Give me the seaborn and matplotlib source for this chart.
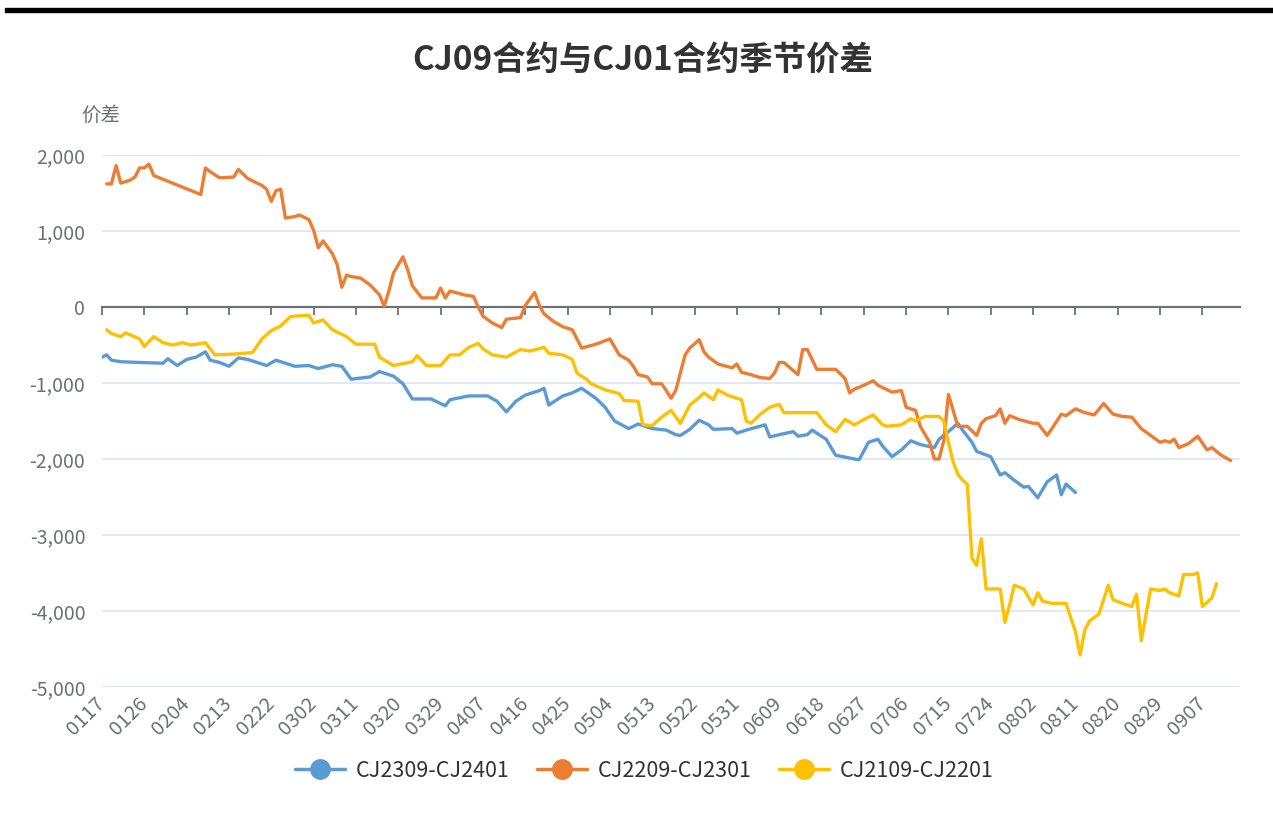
import matplotlib
matplotlib.use("Agg")
import matplotlib.pyplot as plt
from matplotlib.lines import Line2D
from matplotlib.patches import Rectangle
import pandas as pd
import seaborn as sns

# === categories (every calendar day, leap-year calendar) ===
categories = list(pd.date_range("2024-01-17", "2024-09-15").strftime("%m%d"))
tick_labels = categories[::9]
y_ticks = [2000, 1000, 0, -1000, -2000, -3000, -4000, -5000]

series_names = ["CJ2309-CJ2401", "CJ2209-CJ2301", "CJ2109-CJ2201"]
colors = ["#5B9BD5", "#ED7D31", "#FFC000"]

# === CJ2309-CJ2401 ===
blue_dates = ["0117", "0118", "0119", "0121", "0125", "0130", "0131", "0202", "0204", "0206",
              "0208", "0209", "0211", "0213", "0215", "0217", "0221", "0223", "0227", "0301",
              "0303", "0306", "0308", "0310", "0314", "0316", "0319", "0321", "0323", "0327",
              "0330", "0331", "0404", "0408", "0410", "0412", "0414", "0416", "0419", "0420",
              "0421", "0424", "0426", "0428", "0501", "0503", "0505", "0508", "0510", "0513",
              "0516", "0518", "0519", "0521", "0523", "0525", "0526", "0530", "0531", "0602",
              "0606", "0607", "0609", "0612", "0613", "0615", "0616", "0619", "0621", "0625",
              "0626", "0628", "0630", "0701", "0703", "0705", "0707", "0709", "0712", "0713",
              "0715", "0717", "0718", "0720", "0721", "0724", "0726", "0727", "0729", "0731",
              "0801", "0803", "0805", "0807", "0808", "0809", "0811"]
blue_vals = [-660, -630, -700, -720, -730, -740, -680, -770, -690, -660,
             -590, -700, -730, -780, -670, -690, -770, -700, -780, -770,
             -810, -760, -780, -950, -920, -850, -910, -1010, -1210, -1210,
             -1300, -1220, -1170, -1170, -1240, -1380, -1240, -1160, -1100, -1070,
             -1290, -1170, -1130, -1070, -1200, -1320, -1500, -1600, -1540, -1600,
             -1620, -1680, -1690, -1610, -1490, -1550, -1610, -1600, -1660, -1620,
             -1550, -1710, -1680, -1640, -1700, -1680, -1620, -1740, -1950, -2000,
             -2010, -1780, -1740, -1830, -1970, -1880, -1760, -1810, -1850, -1740,
             -1640, -1530, -1620, -1780, -1900, -1970, -2210, -2180, -2280, -2370,
             -2360, -2510, -2300, -2210, -2470, -2330, -2440]

# === CJ2209-CJ2301 ===
orange_dates = ["0118", "0119", "0120", "0121", "0123", "0124", "0125", "0126", "0127", "0128",
                "0207", "0208", "0209", "0211", "0214", "0215", "0217", "0218", "0220", "0221",
                "0222", "0223", "0224", "0225", "0227", "0228", "0301", "0302", "0303", "0304",
                "0306", "0307", "0308", "0309", "0310", "0312", "0314", "0316", "0317", "0318",
                "0319", "0321", "0322", "0323", "0325", "0328", "0329", "0330", "0331", "0403",
                "0405", "0406", "0407", "0409", "0411", "0412", "0415", "0416", "0418", "0419",
                "0420", "0422", "0424", "0426", "0427", "0428", "0501", "0504", "0506", "0508",
                "0509", "0510", "0512", "0513", "0515", "0516", "0517", "0518", "0520", "0521",
                "0523", "0524", "0525", "0527", "0530", "0531", "0601", "0603", "0605", "0607",
                "0608", "0609", "0610", "0613", "0614", "0615", "0617", "0621", "0623", "0624",
                "0625", "0627", "0629", "0630", "0703", "0705", "0706", "0708", "0709", "0711",
                "0712", "0713", "0714", "0715", "0716", "0717", "0719", "0721", "0722", "0723",
                "0725", "0726", "0727", "0728", "0730", "0802", "0803", "0805", "0806", "0808",
                "0809", "0811", "0813", "0815", "0817", "0819", "0821", "0823", "0825", "0827",
                "0829", "0830", "0831", "0901", "0902", "0904", "0906", "0908", "0909", "0911",
                "0913"]
orange_vals = [1620, 1620, 1860, 1630, 1670, 1710, 1830, 1830, 1880, 1730,
               1480, 1830, 1780, 1700, 1710, 1810, 1690, 1660, 1600, 1550,
               1390, 1530, 1550, 1170, 1190, 1210, 1150, 1010, 780, 870,
               700, 560, 260, 420, 400, 380, 290, 160, 10, 210,
               450, 660, 490, 280, 120, 120, 250, 120, 210, 160,
               140, 0, -120, -210, -270, -160, -140, 20, 190, 20,
               -90, -190, -260, -300, -420, -540, -490, -420, -630, -700,
               -780, -890, -920, -1010, -1010, -1100, -1200, -1100, -630, -540,
               -430, -590, -660, -750, -800, -750, -860, -890, -930, -940,
               -870, -730, -730, -890, -560, -560, -820, -820, -940, -1130,
               -1080, -1030, -970, -1030, -1120, -1100, -1320, -1360, -1570, -1780,
               -2000, -2000, -1760, -1150, -1360, -1570, -1570, -1690, -1530, -1470,
               -1430, -1340, -1530, -1430, -1480, -1530, -1530, -1690, -1600, -1410,
               -1430, -1340, -1390, -1420, -1270, -1410, -1440, -1450, -1600, -1690,
               -1780, -1760, -1780, -1740, -1850, -1800, -1700, -1880, -1850, -1950,
               -2020]

# === CJ2109-CJ2201 ===
yellow_dates = ["0118", "0119", "0121", "0122", "0125", "0126", "0128", "0130", "0201", "0203",
                "0205", "0208", "0210", "0214", "0218", "0220", "0222", "0224", "0226", "0227",
                "0301", "0302", "0304", "0306", "0309", "0311", "0315", "0316", "0319", "0323",
                "0324", "0326", "0329", "0331", "0402", "0404", "0406", "0407", "0409", "0412",
                "0415", "0417", "0420", "0421", "0424", "0426", "0427", "0429", "0430", "0503",
                "0506", "0507", "0510", "0511", "0513", "0515", "0517", "0519", "0521", "0523",
                "0524", "0526", "0527", "0529", "0601", "0602", "0603", "0605", "0607", "0609",
                "0610", "0617", "0619", "0621", "0623", "0625", "0627", "0629", "0701", "0702",
                "0705", "0707", "0708", "0710", "0713", "0714", "0715", "0716", "0717", "0718",
                "0719", "0720", "0721", "0722", "0723", "0726", "0727", "0728", "0729", "0731",
                "0802", "0803", "0804", "0806", "0809", "0811", "0812", "0813", "0814", "0816",
                "0818", "0819", "0821", "0823", "0824", "0825", "0827", "0829", "0830", "0831",
                "0902", "0903", "0905", "0906", "0907", "0909", "0910"]
yellow_vals = [-300, -350, -390, -340, -420, -520, -390, -470, -500, -470,
               -500, -470, -630, -620, -600, -420, -310, -250, -130, -120,
               -110, -210, -170, -300, -390, -490, -490, -660, -770, -720,
               -640, -770, -770, -630, -630, -530, -480, -550, -630, -660,
               -560, -580, -530, -610, -630, -690, -870, -950, -1010, -1090,
               -1140, -1230, -1240, -1550, -1560, -1450, -1360, -1530, -1290, -1190,
               -1130, -1220, -1090, -1160, -1220, -1500, -1530, -1410, -1320, -1280,
               -1390, -1390, -1550, -1640, -1480, -1550, -1480, -1420, -1550, -1570,
               -1550, -1470, -1500, -1440, -1440, -1500, -1780, -2040, -2200, -2280,
               -2330, -3300, -3400, -3050, -3710, -3710, -4150, -3920, -3660, -3710,
               -3920, -3760, -3870, -3900, -3900, -4270, -4580, -4250, -4130, -4040,
               -3660, -3850, -3900, -3940, -3780, -4390, -3710, -3730, -3710, -3760,
               -3800, -3520, -3520, -3500, -3940, -3830, -3640]

sns.set_theme(style="white")
plt.rcParams["font.family"] = ["Noto Sans CJK SC", "DejaVu Sans"]

rows = []
for name, dates, vals in zip(series_names,
                             [blue_dates, orange_dates, yellow_dates],
                             [blue_vals, orange_vals, yellow_vals]):
    assert len(dates) == len(vals), name
    for d, v in zip(dates, vals):
        rows.append({"idx": categories.index(d), "value": v, "series": name})
df = pd.DataFrame(rows)

W, H = 1273, 839
fig = plt.figure(figsize=(W / 100, H / 100), dpi=100)
ax = fig.add_axes([102 / W, 1 - 687 / H, 1138 / W, 532 / H])

sns.lineplot(data=df, x="idx", y="value", hue="series", hue_order=series_names,
             palette=colors, linewidth=2.4, estimator=None, legend=False, ax=ax, zorder=3)

ax.set_xlim(0, len(categories) - 1)
ax.set_ylim(-5000, 2000)
ax.set_xlabel("")
ax.set_ylabel("")
ax.set_yticks(y_ticks)
ax.set_yticklabels([f"{v:,}" for v in y_ticks])
ax.grid(axis="y", color="#E0E6F1", linewidth=1.3)
ax.grid(axis="x", visible=False)
ax.set_axisbelow(True)
for s in ax.spines.values():
    s.set_visible(False)
ax.tick_params(axis="y", length=0, pad=12, labelsize=14, labelcolor="#6E7079")

tick_pos = list(range(0, len(categories), 9))
ax.set_xticks(tick_pos)
ax.set_xticklabels(tick_labels, rotation=45, ha="right", va="center", rotation_mode="anchor")
ax.tick_params(axis="x", length=0, pad=10, labelsize=14.5, labelcolor="#6E7079")

# axis line at zero with ticks
ax.axhline(0, color="#6E7079", linewidth=1.5, zorder=2)
zero_ax = ax.secondary_xaxis(0, transform=ax.transData)
zero_ax.set_xticks(tick_pos)
zero_ax.set_xticklabels([])
zero_ax.tick_params(length=6, width=1.3, color="#6E7079", direction="out")
for s in zero_ax.spines.values():
    s.set_color("#6E7079")
    s.set_linewidth(1.5)

# header
fig.add_artist(Rectangle((5 / W, 1 - 11.5 / H), 1, 4 / H, transform=fig.transFigure,
                         color="black"))
fig.text(0.505, 1 - 60 / H, "CJ09合约与CJ01合约季节价差", ha="center", va="center",
         fontsize=24, fontweight="bold", color="#333333")
fig.text(101 / W, 1 - 115 / H, "价差", ha="center", va="center", fontsize=14,
         color="#6E7079")

handles = [Line2D([], [], color=c, lw=2.5, marker="o", markersize=14) for c in colors]
fig.legend(handles, series_names, loc="center", bbox_to_anchor=(0.506, 1 - 771 / H),
           ncol=3, frameon=False, fontsize=15.5, handlelength=2.3, columnspacing=1.3,
           handletextpad=0.5, labelcolor="#333333")

fig.savefig("out.png", dpi=100)
